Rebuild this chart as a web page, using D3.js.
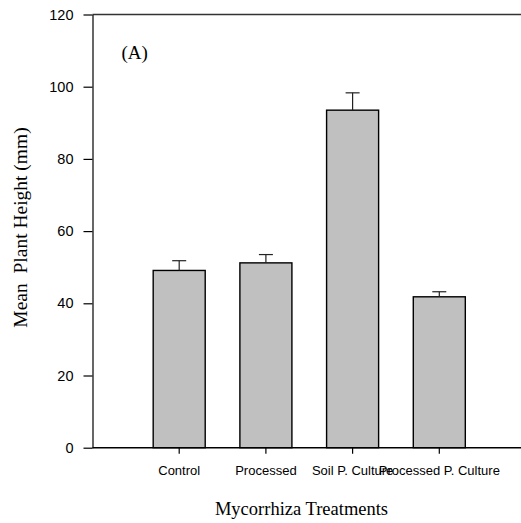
<!DOCTYPE html>
<html>
<head>
<meta charset="utf-8">
<title>Mean Plant Height</title>
<script src="https://d3js.org/d3.v7.min.js"></script>
<style>
body { margin:0; background:#fff; }
</style>
</head>
<body>
<svg id="chart" width="521" height="523"></svg>
<script>
// data
var categories = ["Control", "Processed", "Soil P. Culture", "Processed P. Culture"];
var means = [49.1, 51.2, 93.5, 41.8];
var errors = [2.7, 2.3, 4.8, 1.4];
var yTicks = [0, 20, 40, 60, 80, 100, 120];

var svg = d3.select("#chart");
// note: "top" is reserved on window, so use plot* names
var plotLeft = 92.5, plotBottom = 447.7, plotTop = 14.5, plotRight = 521;
var step = 86.7;

var x = d3.scaleBand()
  .domain(categories)
  .range([plotLeft + step * 0.5, plotLeft + step * 4.5])
  .paddingInner(0.4)
  .paddingOuter(0.2);

var y = d3.scaleLinear().domain([0, 120]).range([plotBottom, plotTop]);

// top frame line
svg.append("line")
  .attr("x1", plotLeft).attr("x2", plotRight)
  .attr("y1", y(120)).attr("y2", y(120))
  .attr("stroke", "#333").attr("stroke-width", 1.5);

// bars
svg.selectAll("rect.bar").data(means).enter().append("rect")
  .attr("class", "bar")
  .attr("x", function(d, i){ return x(categories[i]); })
  .attr("y", function(d){ return y(d); })
  .attr("width", x.bandwidth())
  .attr("height", function(d){ return y(0) - y(d); })
  .attr("fill", "#c0c0c0")
  .attr("stroke", "#000")
  .attr("stroke-width", 1.4);

// error bars (upper only)
var eb = svg.selectAll("g.err").data(means).enter().append("g").attr("class", "err");
eb.append("line")
  .attr("x1", function(d, i){ return x(categories[i]) + x.bandwidth()/2; })
  .attr("x2", function(d, i){ return x(categories[i]) + x.bandwidth()/2; })
  .attr("y1", function(d){ return y(d); })
  .attr("y2", function(d, i){ return y(d + errors[i]); })
  .attr("stroke", "#222").attr("stroke-width", 1.2);
eb.append("line")
  .attr("x1", function(d, i){ return x(categories[i]) + x.bandwidth()/2 - 7; })
  .attr("x2", function(d, i){ return x(categories[i]) + x.bandwidth()/2 + 7; })
  .attr("y1", function(d, i){ return y(d + errors[i]); })
  .attr("y2", function(d, i){ return y(d + errors[i]); })
  .attr("stroke", "#222").attr("stroke-width", 1.2);

// y axis
var yAxis = svg.append("g")
  .attr("transform", "translate(" + plotLeft + ",0)")
  .call(d3.axisLeft(y).tickValues(yTicks).tickSize(9).tickPadding(10).tickSizeOuter(0));
yAxis.select(".domain").attr("stroke", "#000").attr("stroke-width", 1.2);
yAxis.selectAll(".tick line").attr("stroke", "#000").attr("stroke-width", 1.2);
yAxis.selectAll("text").attr("font-family", "Liberation Sans, Arial, sans-serif").attr("font-size", 14.5).attr("fill", "#000");

// x axis
var xAxis = svg.append("g")
  .attr("transform", "translate(0," + plotBottom + ")")
  .call(d3.axisBottom(x).tickSize(6).tickPadding(12).tickSizeOuter(0));
xAxis.select(".domain").attr("d", "M" + plotLeft + ",0H" + plotRight).attr("stroke", "#000").attr("stroke-width", 1.5);
xAxis.selectAll(".tick line").attr("stroke", "#000").attr("stroke-width", 1.2);
xAxis.selectAll("text").attr("font-family", "Liberation Sans, Arial, sans-serif").attr("font-size", 13).attr("fill", "#000");

// titles
svg.append("text")
  .attr("x", 301.5).attr("y", 515)
  .attr("text-anchor", "middle")
  .attr("font-family", "Liberation Serif, Times New Roman, serif")
  .attr("font-size", 18.5)
  .text("Mycorrhiza Treatments");

svg.append("text")
  .attr("transform", "translate(27,227.5) rotate(-90)")
  .attr("text-anchor", "middle")
  .attr("font-family", "Liberation Serif, Times New Roman, serif")
  .attr("font-size", 19.5)
  .style("white-space", "pre")
  .text("Mean  Plant Height (mm)");

svg.append("text")
  .attr("x", 121.5).attr("y", 59)
  .attr("font-family", "Liberation Serif, Times New Roman, serif")
  .attr("font-size", 19)
  .text("(A)");
</script>
</body>
</html>
